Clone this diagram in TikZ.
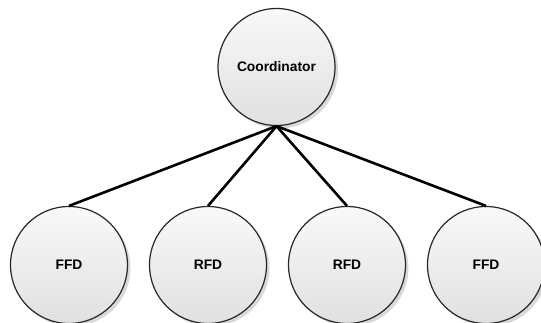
\documentclass[tikz,border=0pt]{standalone}
\usepackage{fontspec}
\setmainfont{Liberation Sans}
\usetikzlibrary{shadows}
\begin{document}
\begin{tikzpicture}[x=1pt,y=-1pt,
  ball/.style={circle, draw=black!85, line width=1.2pt, minimum size=117pt, inner sep=0pt,
    top color=gray!5, bottom color=gray!24,
    drop shadow={shadow xshift=3pt, shadow yshift=-3pt, fill=gray!55, opacity=0.55},
    font=\fontsize{13.8}{16}\selectfont\bfseries},
  link/.style={line width=2.6pt, black}]
\useasboundingbox (0,0) rectangle (541,323);
\node[ball] (c) at (276.5,67) {Coordinator};
\node[ball] (f1) at (69,265) {FFD};
\node[ball] (r1) at (208,265) {RFD};
\node[ball] (r2) at (347,265) {RFD};
\node[ball] (f2) at (486,265) {FFD};
\draw[link] (c.south) -- (f1.north);
\draw[link] (c.south) -- (r1.north);
\draw[link] (c.south) -- (r2.north);
\draw[link] (c.south) -- (f2.north);
\end{tikzpicture}
\end{document}
